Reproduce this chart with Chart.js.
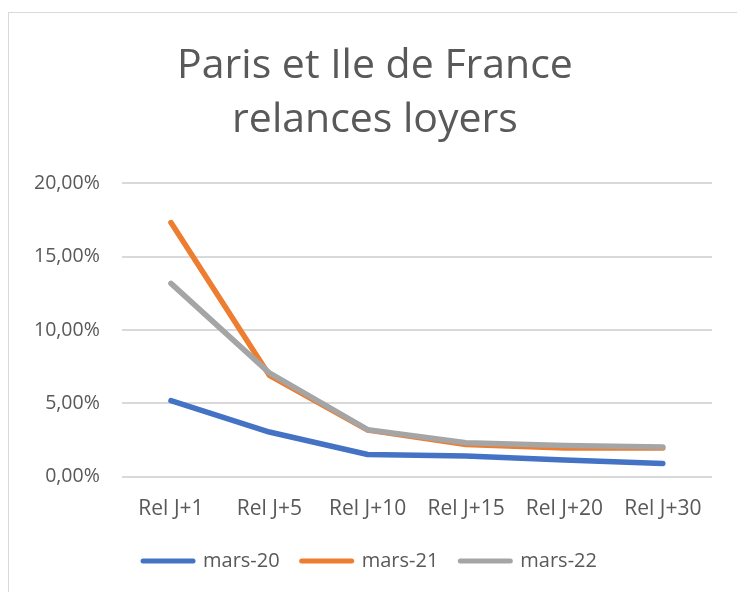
<!DOCTYPE html>
<html>
<head>
<meta charset="utf-8">
<script src="https://cdn.jsdelivr.net/npm/chart.js@4"></script>
<style>
  html, body { margin: 0; padding: 0; background: #ffffff; overflow: hidden; }
  #wrap { position: relative; width: 737px; height: 592px; background: #ffffff; }
  #frame { position: absolute; left: 8px; top: 12px; width: 900px; height: 800px; border: 1px solid #d9d9d9; box-sizing: border-box; }
  #c { position: absolute; left: 0; top: 0; }
</style>
</head>
<body>
<div id="wrap">
  <div id="frame"></div>
  <canvas id="c" width="737" height="592"></canvas>
</div>
<script>
const titleLines = ['Paris et Ile de France', 'relances loyers'];
const categories = ['Rel J+1', 'Rel J+5', 'Rel J+10', 'Rel J+15', 'Rel J+20', 'Rel J+30'];
const seriesNames = ['mars-20', 'mars-21', 'mars-22'];
const mars20 = [0.0519, 0.0305, 0.0152, 0.0141, 0.0114, 0.0091];
const mars21 = [0.1732, 0.0692, 0.0318, 0.0220, 0.0197, 0.0197];
const mars22 = [0.1318, 0.0708, 0.0321, 0.0232, 0.0214, 0.0203];
const yTicks = [0, 0.05, 0.10, 0.15, 0.20];
const colors = ['#4472C4', '#ED7D31', '#A5A5A5'];
const drawOrder = [0, 2, 1];

const FONT = "'Open Sans', 'Liberation Sans', sans-serif";
const TXT = '#595959';

function ds(label, data, color, order) {
  return {
    label: label, data: data, borderColor: color, backgroundColor: color,
    borderWidth: 5.5, pointRadius: 0, pointHoverRadius: 0, tension: 0,
    borderCapStyle: 'round', borderJoinStyle: 'round', fill: false, order: order
  };
}

// Centre title and legend on the chart frame (not on the padded plot region)
const shiftBlocks = {
  id: 'shiftBlocks',
  afterLayout: function(chart) {
    if (chart.titleBlock) { chart.titleBlock.left += 13; chart.titleBlock.right += 13; }
    if (chart.legend) { chart.legend.left += 8; chart.legend.right += 8; }
  }
};

new Chart(document.getElementById('c'), {
  type: 'line',
  data: {
    labels: categories,
    datasets: [
      ds(seriesNames[0], mars20, colors[0], drawOrder[0]),
      ds(seriesNames[1], mars21, colors[1], drawOrder[1]),
      ds(seriesNames[2], mars22, colors[2], drawOrder[2])
    ]
  },
  plugins: [shiftBlocks],
  options: {
    responsive: false,
    devicePixelRatio: 1,
    animation: false,
    layout: { padding: { left: 12, right: 25, top: 39, bottom: 11 } },
    plugins: {
      tooltip: { enabled: false },
      title: {
        display: true, text: titleLines, color: TXT,
        font: { family: FONT, size: 41, weight: 'normal', lineHeight: 1.32 },
        padding: { top: 0, bottom: 36 }
      },
      legend: {
        position: 'bottom',
        labels: {
          color: TXT,
          font: { family: FONT, size: 20 },
          usePointStyle: true,
          pointStyle: 'line',
          pointStyleWidth: 50,
          boxHeight: 20,
          padding: 22,
          generateLabels: function(chart) {
            return chart.data.datasets.map(function(d, i) {
              return {
                text: d.label, fillStyle: d.borderColor, strokeStyle: d.borderColor,
                lineWidth: 5, lineCap: 'round', pointStyle: 'line',
                hidden: false, datasetIndex: i, fontColor: TXT
              };
            });
          }
        }
      }
    },
    scales: {
      x: {
        offset: true,
        grid: { display: false, drawTicks: false },
        border: { display: false },
        ticks: { color: TXT, font: { family: FONT, size: 21 }, padding: 20, maxRotation: 0, autoSkip: false },
        afterFit: function(axis) { axis.height -= 13; }
      },
      y: {
        min: 0, max: 0.2,
        afterBuildTicks: function(axis) { axis.ticks = yTicks.map(function(v) { return { value: v }; }); },
        grid: { color: '#d9d9d9', lineWidth: 2, drawTicks: false },
        border: { display: false },
        ticks: {
          color: TXT, font: { family: FONT, size: 19.5 }, padding: 22,
          callback: function(v) { return (v * 100).toFixed(2).replace('.', ',') + '%'; }
        }
      }
    }
  }
});
</script>
</body>
</html>
